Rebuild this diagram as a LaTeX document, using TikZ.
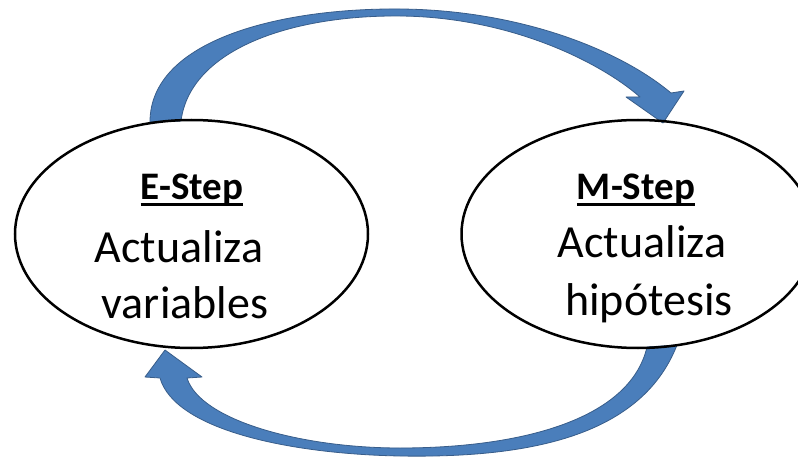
\documentclass[tikz,border=0pt]{standalone}
\usepackage{fontspec}
\setmainfont{Carlito}
\usetikzlibrary{shapes.geometric}
\definecolor{arrowfill}{RGB}{74,126,187}
\definecolor{arrowedge}{RGB}{56,93,138}
\newcommand{\thickul}[1]{\underline{#1}}
\tikzset{
  stepellipse/.style={ellipse, draw=black, line width=2.5pt, inner sep=0pt, outer sep=0pt,
    minimum width=353pt, minimum height=228pt},
  titletext/.style={anchor=base, inner sep=0pt, font=\fontsize{39}{46}\selectfont\bfseries},
  bodytext/.style={anchor=base, inner sep=0pt, font=\fontsize{46}{56}\selectfont},
  blockarrow/.style={fill=arrowfill, draw=arrowedge, line width=0.8pt, line join=round},
  ulline/.style={line width=2.2pt, black}
}
\begin{document}
\begin{tikzpicture}[x=1pt, y=-1pt]
\useasboundingbox (0,0) rectangle (798,457);
\clip (0,0) rectangle (798,457);
\fill[white] (0,0) rectangle (798,457);

% top curved arrow (E-Step -> M-Step)
\coordinate (ta) at (150,122);
\coordinate (tb) at (181,121);
\coordinate (ttip) at (663,123);
\draw[blockarrow] (ta) .. controls (150,40) and (280,8) .. (400,9)
  .. controls (520,10) and (620,50) .. (671,93)
  -- (684,91) -- (ttip) -- (626,97) -- (640,97)
  .. controls (600,62) and (510,17) .. (400,16)
  .. controls (290,15) and (190,50) .. (tb) -- cycle;

% bottom curved arrow (M-Step -> E-Step)
\coordinate (ba) at (677,345);
\coordinate (bb) at (647,347);
\coordinate (btip) at (165,350);
\draw[blockarrow] (ba) .. controls (640,440) and (520,458) .. (400,456)
  .. controls (290,454) and (175,430) .. (160,378)
  -- (145,377) -- (btip) -- (202,377) -- (187,378)
  .. controls (200,420) and (300,448) .. (400,448)
  .. controls (520,448) and (630,420) .. (bb) -- cycle;

\node[stepellipse] (E) at (191.5,234) {};
\node[stepellipse] (M) at (638,234) {};

\node[titletext] (et) at (192,200) {E-Step};
\draw[ulline] ([yshift=-4.5pt]et.base west) -- ([yshift=-4.5pt]et.base east);
\node[bodytext] (e1) at (179,262) {Actualiza};
\node[bodytext] (e2) at (185,318) {variables};

\node[titletext] (mt) at (636,200) {M-Step};
\draw[ulline] ([yshift=-4.5pt]mt.base west) -- ([yshift=-4.5pt]mt.base east);
\node[bodytext] (m1) at (642,258) {Actualiza};
\node[bodytext] (m2) at (649,315) {hipótesis};
\end{tikzpicture}
\end{document}
